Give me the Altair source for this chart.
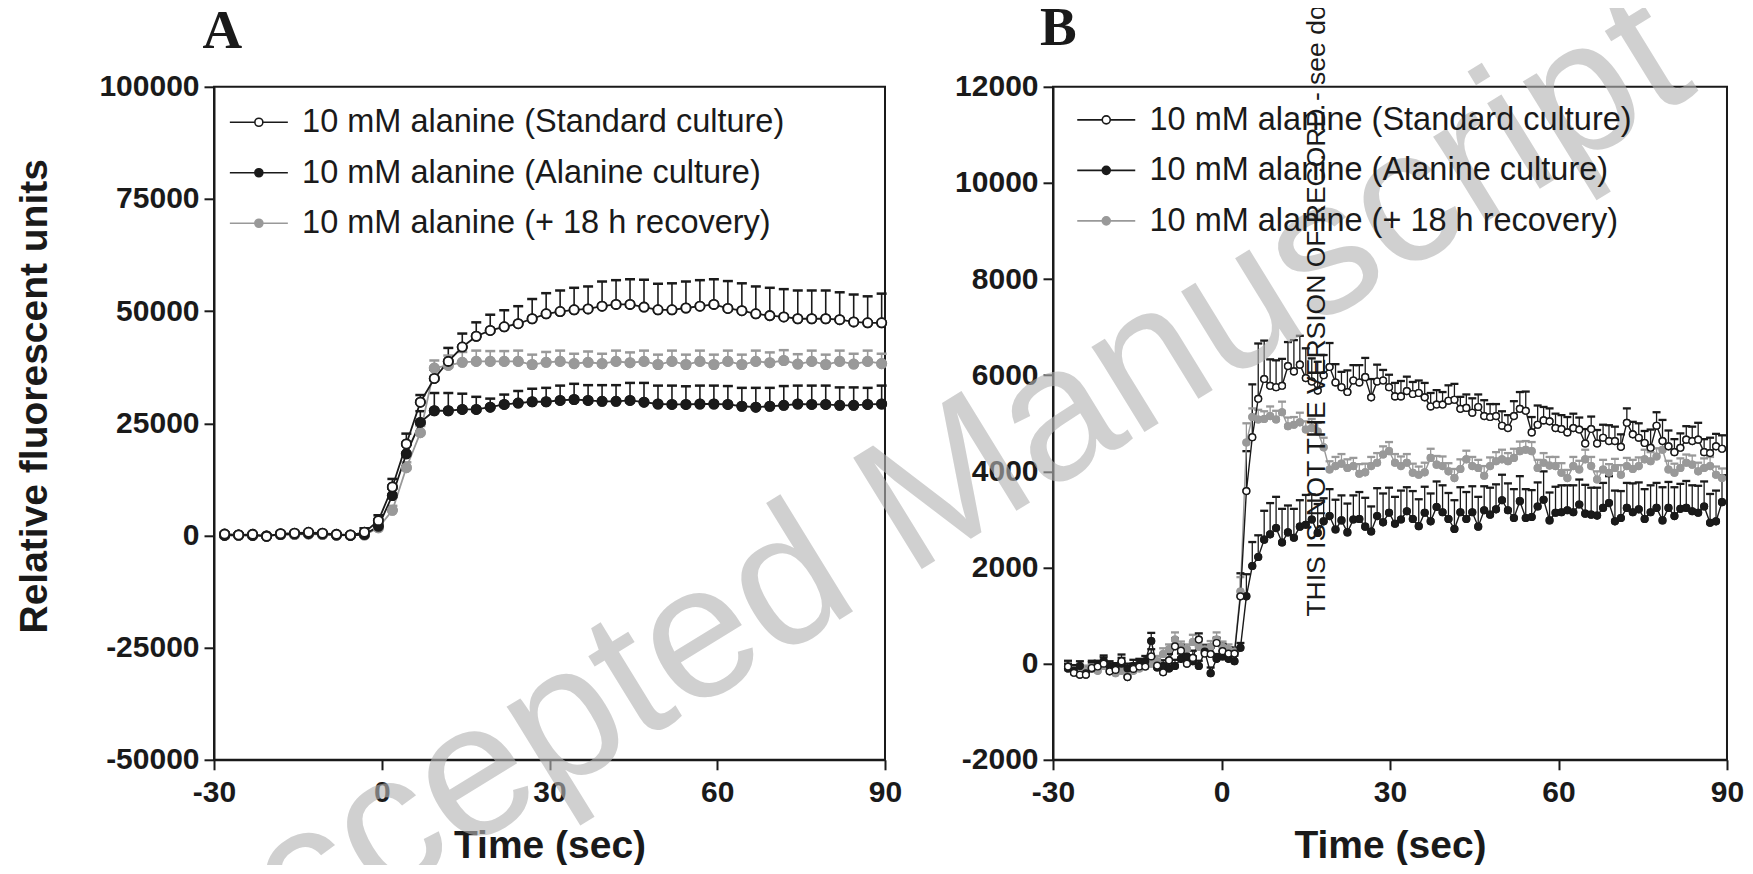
import altair as alt
import pandas as pd

SERIES = [
    "10 mM alanine (Standard culture)",
    "10 mM alanine (Alanine culture)",
    "10 mM alanine (+ 18 h recovery)",
]
LINE_COLORS = ["#1a1a1a", "#1a1a1a", "#999999"]
FILL_COLORS = ["#ffffff", "#1a1a1a", "#999999"]

X_TICKS = [-30, 0, 30, 60, 90]
YA_TICKS = [-50000, -25000, 0, 25000, 50000, 75000, 100000]
YB_TICKS = [-2000, 0, 2000, 4000, 6000, 8000, 10000, 12000]

WATERMARK = "Accepted Manuscript"
NOTICE = "THIS IS NOT THE VERSION OF RECORD - see doi"

# sampling times (s)
TIME_A = [round(-28.1 + 2.5 * i, 2) for i in range(48)]
TIME_B = [round(-27.33 + 1.0585 * i, 2) for i in range(111)]

# ---------------- Panel A ----------------
A_STD = [300, 100, 250, -200, 400, 500, 700, 500, 250, 100,
         700, 3300, 10800, 20400, 29700, 35000, 38800, 42000, 44400, 45700,
         46500, 47200, 48300, 49400, 49900, 50300, 50500, 51100, 51500, 51500,
         50900, 50300, 50300, 50700, 51100, 51500, 50600, 50100, 49400, 49000,
         48700, 48300, 48300, 48300, 48100, 47600, 47400, 47400]
A_STD_ERR = [400, 300, 300, 300, 400, 300, 300, 300, 300, 400,
             900, 1200, 1800, 2300, 1600, 2000, 3000, 3000, 3100, 3500,
             3700, 3900, 4400, 4600, 4700, 4900, 5000, 5500, 5400, 5600,
             6100, 5800, 5900, 5900, 5800, 5600, 6100, 6100, 6100, 6200,
             6200, 6300, 6300, 6300, 6100, 6100, 5900, 6500]
A_ALA = [0, 100, 0, -100, 200, 300, 400, 300, 100, 0,
         200, 2050, 8900, 18200, 25200, 27800, 27800, 28100, 28100, 28600,
         29200, 29500, 29800, 29800, 30100, 30300, 30100, 29900, 29900, 30100,
         29700, 29300, 29200, 29200, 29300, 29300, 29200, 28800, 28600, 28800,
         29000, 29300, 29200, 29200, 29000, 29000, 29200, 29300]
A_ALA_ERR = [200, 200, 200, 200, 200, 200, 200, 200, 200, 200,
             500, 800, 1500, 2000, 2500, 3950, 3950, 3500, 2800, 1900,
             2200, 2700, 2900, 3100, 3300, 3500, 3400, 3600, 3600, 3900,
             4300, 4100, 4200, 4050, 4100, 4100, 4100, 4100, 4300, 4100,
             4300, 4100, 4200, 4200, 4000, 4000, 3700, 4100]
A_REC = [100, 0, 100, -100, 200, 200, 300, 200, 100, 100,
         100, 1700, 5600, 15100, 22900, 37300, 37900, 38600, 38800, 38800,
         38800, 38800, 38100, 38600, 38800, 38300, 38600, 38300, 38800, 38500,
         38800, 38100, 38800, 38100, 38800, 38100, 38800, 38100, 38800, 38500,
         39000, 38200, 38800, 38100, 38800, 38200, 38800, 38300]
A_REC_ERR = [200, 200, 200, 200, 200, 200, 200, 200, 200, 200,
             300, 600, 1000, 1200, 1500, 1700, 2200, 2300, 2400, 2300,
             2300, 2400, 2200, 2300, 2400, 2200, 2400, 2200, 2400, 2300,
             2400, 2200, 2400, 2200, 2400, 2200, 2400, 2200, 2400, 2300,
             2300, 2200, 2400, 2200, 2400, 2300, 2400, 2200]

# ---------------- Panel B ----------------
B_STD = [-60, -190, -230, -230, -90, -60, 0, -160, -130, 50,
         -280, -110, -60, -60, 150, -40, -180, 70, 360, 270,
         0, 120, 500, 210, 200, 430, 260, 210, 210,
         1400, 3590, 4710, 5510, 5920, 5780, 5750, 5780, 6190, 6080,
         6220, 5940, 5870, 5680, 6000, 6170, 5850, 5750, 5650, 5890,
         5850, 5960, 5540, 5870, 5890, 5750, 5560, 5560, 5670, 5610,
         5630, 5540,
         5350, 5390, 5390, 5470, 5490, 5300, 5320, 5220, 5340, 5150,
         5130, 5150, 4950, 4900, 5150, 5300, 5260, 4810, 4970, 5060,
         5040, 4900, 4880, 4810, 4900,
         4870, 4580, 4880, 4580, 4700, 4630, 4630, 4510, 5010, 4770,
         4700, 4590, 4490, 4950, 4630, 4520, 4400, 4490, 4660, 4630,
         4660, 4400, 4380, 4520, 4470]
B_STD_ERR = [120, 100, 130, 100, 150, 120, 130, 110, 100, 140,
             120, 110, 130, 100, 150, 120, 110, 130, 160, 120,
             110, 150, 130, 120, 140, 110, 150, 130, 120,
             480, 830, 1100, 1150, 800, 550, 560, 560, 500, 650,
             600, 620, 480, 600, 420, 500, 380, 320, 450, 320,
             360, 400, 380, 350, 220, 260, 280, 320, 300, 250,
             260, 300,
             280, 300, 260, 320, 330, 250, 280, 300, 260, 330,
             270, 250, 300, 270, 310, 350, 400, 320, 400, 280,
             270, 300, 290, 320, 300,
             250, 300, 260, 280, 270, 330, 300, 260, 300, 260,
             300, 250, 380, 280, 440, 330, 270, 300, 280, 300,
             350, 270, 320, 260, 280]
B_ALA = [-100, -150, -50, -200, -100, -50, 50, -50, -100, 0,
         -100, -50, -20, 50, 470, -80, -50, -100, -50, 100,
         150, 50, -50, 250, -200, 100, 150, 100, 50,
         330, 1400, 2030, 2220, 2580, 2690, 2820, 2520, 2730, 2620,
         2850, 2890, 3000, 2720, 2960, 3070, 2790, 2980, 2730, 3000,
         3010, 2850, 2750, 3070, 2940, 3140, 2910, 3000, 3170, 3010,
         2860, 3140,
         2960, 3260, 3150, 3010, 2800, 3150, 3010, 3150, 2850, 3190,
         3100, 3210, 3400, 3190, 3030, 3380, 3030, 3050, 3270, 3410,
         2980, 3140, 3150, 3190, 3150,
         3310, 3120, 3100, 3080, 3240, 3340, 2960, 3030, 3240, 3150,
         3210, 3010, 3150, 3240, 2980, 3240, 3070, 3220, 3240, 3170,
         3140, 3270, 2930, 2960, 3360]
B_ALA_ERR = [100, 120, 100, 110, 130, 100, 120, 100, 110, 120,
             100, 130, 120, 110, 170, 110, 120, 100, 130, 110,
             120, 100, 110, 130, 120, 100, 110, 130, 120,
             100, 460, 500, 450, 600, 650, 650, 700, 560, 600,
             550, 620, 520, 600, 480, 560, 620, 520, 600, 500,
             560, 600, 520, 580, 600, 520, 560, 600, 500, 580,
             560, 540,
             580, 530, 560, 540, 600, 520, 560, 540, 620, 500,
             560, 520, 530, 560, 600, 520, 600, 560, 500, 590,
             580, 540, 560, 520, 560,
             520, 600, 560, 580, 520, 560, 640, 560, 520, 600,
             560, 620, 560, 520, 690, 540, 600, 520, 560, 540,
             560, 520, 600, 640, 560]
B_REC = [-100, -150, -200, -150, -100, -150, -50, -100, -200, -150,
         -250, -150, -100, -50, 0, 50, 200, 300, 500, 350,
         300, 450, 350, 300, 350, 500, 350, 300, 250,
         1500, 4600, 5130, 5080, 5090, 5150, 5080, 5230, 4940, 4970,
         5020, 4870, 4900, 4830, 4500, 4040, 4110, 4160, 4070, 4110,
         3950, 3980, 4110, 4180, 4350, 4420, 4180, 4110,
         4180, 3970, 3930, 3980,
         4280, 4140, 4110, 4000, 3860, 4050, 4250, 4110, 4070, 3910,
         4110, 4210, 4250, 4210, 4280, 4420, 4450, 4420, 4070, 4180,
         4120, 4110, 3970, 3860, 4110,
         4040, 4250, 4110, 3830, 4040, 3970, 4070, 3930, 4110, 4050,
         4110, 4250, 4210, 4310, 4450, 4040, 3970, 4070, 4180, 4140,
         4000, 4070, 4110, 3930, 3860]
B_REC_ERR = [90, 100, 80, 110, 90, 100, 80, 100, 90, 110,
             100, 80, 90, 100, 80, 110, 120, 100, 150, 110,
             100, 150, 110, 100, 120, 150, 110, 100, 90,
             300, 400, 180, 200, 160, 200, 180, 220, 180, 160,
             200, 170, 190, 180, 200, 170, 190, 200, 180, 170,
             200, 180, 190, 200, 170, 190, 180, 200,
             180, 190, 170, 200,
             190, 180, 200, 170, 190, 200, 180, 190, 170, 200,
             180, 190, 200, 170, 190, 200, 180, 190, 170, 200,
             180, 190, 200, 170, 190,
             180, 200, 190, 170, 200, 180, 190, 200, 170, 190,
             180, 200, 190, 170, 200, 180, 190, 200, 170, 190,
             180, 200, 190, 170, 200]

LEGEND_PATH = "M-7.25,0L-1,0M1,0L7.25,0M1,0A1,1,0,1,1,-1,0A1,1,0,1,1,1,0Z"
CAP_PATH = "M-1,0L1,0"
FONT = "Liberation Sans"


def frame(times, values, errors):
    parts = []
    for idx in (2, 1, 0):  # draw gray first, open circles last
        parts.append(pd.DataFrame({
            "t": times, "v": values[idx], "err": errors[idx], "series": SERIES[idx]
        }))
    df = pd.concat(parts, ignore_index=True)
    df["top"] = df["v"] + df["err"]
    return df


def panel(df, ydomain, yticks, width, yaxis_title, legend_xy, letter, letter_xy,
          psize, pstroke, lw, stemw, capw, capt, extra_layers=()):
    xsc = alt.Scale(domain=[-30, 90], nice=False, zero=False)
    ysc = alt.Scale(domain=ydomain, nice=False, zero=False)
    xaxis = alt.Axis(values=X_TICKS, labelExpr="'' + datum.value", title="Time (sec)",
                     labelFlush=False, labelOverlap=False, labelPadding=8,
                     titleBaseline="alphabetic", titleY=98)
    yargs = dict(values=yticks, labelExpr="'' + datum.value", labelFlush=False,
                 labelOverlap=False, labelPadding=5)
    if yaxis_title:
        yaxis = alt.Axis(title=yaxis_title, titleAngle=270, titleAlign="center",
                         titleBaseline="alphabetic", titleX=-167.4, titleY=309, **yargs)
    else:
        yaxis = alt.Axis(title=None, **yargs)
    x = alt.X("t:Q", scale=xsc, axis=xaxis)
    y = alt.Y("v:Q", scale=ysc, axis=yaxis)
    ytop = alt.Y("top:Q", scale=ysc, axis=yaxis)
    stroke_scale = alt.Scale(domain=SERIES, range=LINE_COLORS)
    fill_scale = alt.Scale(domain=SERIES, range=FILL_COLORS)
    leg = alt.Legend(title=None, orient="none", legendX=legend_xy[0], legendY=legend_xy[1],
                     symbolType=LEGEND_PATH, symbolSize=64, symbolStrokeWidth=1.6,
                     labelFont=FONT, labelFontSize=32.5, labelFontWeight="normal",
                     labelColor="#1a1a1a", labelOffset=27, labelLimit=2000,
                     rowPadding=17.5, padding=0)
    stroke_enc = alt.Stroke("series:N", scale=stroke_scale, legend=leg)
    fill_enc = alt.Fill("series:N", scale=fill_scale, legend=leg)
    base = alt.Chart(df)

    def pts():
        return base.mark_point(filled=True, size=psize, strokeWidth=pstroke,
                               opacity=1).encode(x=x, y=y, fill=fill_enc, stroke=stroke_enc)

    rules = base.mark_rule(strokeWidth=stemw).encode(x=x, y=y, y2="top:Q", stroke=stroke_enc)
    caps = base.mark_point(shape=CAP_PATH, filled=False, size=capw * capw,
                           strokeWidth=capt, opacity=1).encode(x=x, y=ytop, stroke=stroke_enc)
    lines = base.mark_line(strokeWidth=lw).encode(x=x, y=y, stroke=stroke_enc)
    letter_mark = alt.Chart(pd.DataFrame({"label": [letter]})).mark_text(
        font="Liberation Serif", fontSize=55, fontWeight="bold", align="left",
        baseline="alphabetic", color="#1a1a1a").encode(
        text="label:N", x=alt.value(letter_xy[0]), y=alt.value(letter_xy[1]))
    layers = [pts(), rules, caps, lines, pts(), letter_mark] + list(extra_layers)
    return alt.layer(*layers).properties(width=width, height=673)


dfA = frame(TIME_A, [A_STD, A_ALA, A_REC], [A_STD_ERR, A_ALA_ERR, A_REC_ERR])
dfB = frame(TIME_B, [B_STD, B_ALA, B_REC], [B_STD_ERR, B_ALA_ERR, B_REC_ERR])

watermark = alt.Chart(pd.DataFrame({"label": [WATERMARK]})).mark_text(
    font=FONT, fontSize=190, angle=328.4, align="center", baseline="alphabetic",
    color="#b4b4b4", opacity=0.62).encode(
    text="label:N", x=alt.value(-108.6), y=alt.value(468.4))
notice = alt.Chart(pd.DataFrame({"label": [NOTICE]})).mark_text(
    font=FONT, fontSize=26.5, angle=270, align="left", baseline="alphabetic",
    color="#1a1a1a").encode(
    text="label:N", x=alt.value(272), y=alt.value(529.8))

panelA = panel(dfA, [-50000, 100000], YA_TICKS, 671, "Relative fluorescent units",
               (28.6, 19.2), "A", (-11.4, -39.2),
               psize=85, pstroke=1.8, lw=1.8, stemw=1.6, capw=10, capt=2.5)
panelB = panel(dfB, [-2000, 12000], YB_TICKS, 674, None,
               (37, 16.8), "B", (-13, -42),
               psize=45, pstroke=1.4, lw=1.4, stemw=1.3, capw=8, capt=2.3,
               extra_layers=(watermark, notice))

chart = alt.hconcat(panelA, panelB, spacing=168, bounds="flush").resolve_scale(
    fill="independent", stroke="independent"
).resolve_legend(
    fill="independent", stroke="independent"
).properties(
    padding={"top": -48.2, "left": 6, "right": 0, "bottom": -188.4}
).configure_view(
    stroke="#1a1a1a", strokeWidth=2
).configure_axis(
    domainColor="#1a1a1a", domainWidth=2, tickColor="#1a1a1a", tickWidth=2, tickSize=10,
    labelFont=FONT, labelFontSize=30, labelFontWeight="bold", labelColor="#1a1a1a",
    titleFont=FONT, titleFontSize=39, titleFontWeight="bold", titleColor="#1a1a1a",
    grid=False
)

chart.save("out.html", embed_options={"renderer": "svg", "actions": False})
